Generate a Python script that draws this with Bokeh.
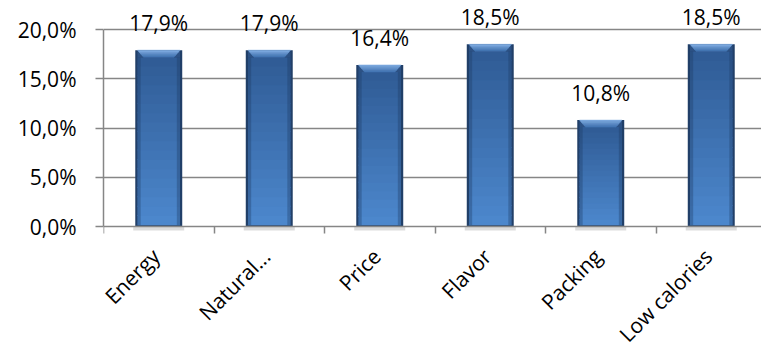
import numpy as np
from bokeh.plotting import figure
from bokeh.core.properties import value
from bokeh.models import (Range1d, FixedTicker, LinearAxis, ColumnDataSource,
                          LabelSet, Grid)
from bokeh.embed import file_html
from bokeh.resources import INLINE

categories = ["Energy", "Natural...", "Price", "Flavor", "Packing", "Low calories"]
values = [17.9, 17.9, 16.4, 18.5, 10.8, 18.5]
value_labels = ["17,9%", "17,9%", "16,4%", "18,5%", "10,8%", "18,5%"]
y_ticks = [0, 5, 10, 15, 20]
y_tick_labels = ["0,0%", "5,0%", "10,0%", "15,0%", "20,0%"]

FONT = "Open Sans"
GRID = "#868686"
x_pos = [i + 0.5 for i in range(len(categories))]
boundaries = list(range(len(categories) + 1))

W, H = 761, 356
LEFT = 103
ZERO_Y = 226     # pixel row of the 0 line
PX = 9.85        # pixels per percent unit
CAT = 110.5      # pixels per category

p = figure(width=W, height=H, output_backend="svg", toolbar_location=None,
           x_range=Range1d(0, (W - LEFT) / CAT),
           y_range=Range1d(-(H - ZERO_Y) / PX, ZERO_Y / PX),
           x_axis_type=None, y_axis_type=None,
           min_border_left=LEFT, min_border_right=0, min_border_top=0,
           min_border_bottom=0)
p.outline_line_color = None
p.background_fill_color = "white"
p.border_fill_color = "white"

p.add_layout(Grid(dimension=1, ticker=FixedTicker(ticks=y_ticks[1:]),
                  grid_line_color=GRID, grid_line_width=1.5))

yaxis = LinearAxis(ticker=FixedTicker(ticks=y_ticks),
                   major_label_overrides=dict(zip(y_ticks, y_tick_labels)),
                   bounds=(0, 20),
                   axis_line_color=GRID, axis_line_width=1.5,
                   major_tick_line_color=GRID, major_tick_line_width=1.5,
                   major_tick_out=8, major_tick_in=0,
                   minor_tick_line_color=None,
                   major_label_standoff=19,
                   major_label_text_font=FONT, major_label_text_font_size="21px",
                   major_label_text_color="black")
p.add_layout(yaxis, "left")

# --- bars with a simulated bevel / gradient ---
bar_w = 0.425
edge = 2.2 / CAT
inner_w = bar_w - 2 * edge
bevel_h = 7.0 / PX
bevel_dx = 6.0 / CAT
base_h = 0.12


def mix(c1, c2, t):
    a = [int(c1[i:i + 2], 16) for i in (1, 3, 5)]
    b = [int(c2[i:i + 2], 16) for i in (1, 3, 5)]
    return "#%02x%02x%02x" % tuple(round(a[j] + (b[j] - a[j]) * t) for j in range(3))


# soft shadow under each bar
p.vbar(x=x_pos, top=[0] * len(values), bottom=[-4 / PX] * len(values),
       width=bar_w + 4 / CAT, fill_color="#9a9a9a", fill_alpha=0.35, line_color=None)

# dark outer body
p.vbar(x=x_pos, top=values, width=bar_w, fill_color="#213f68", line_color=None)

N = 18
sx, sb, st, sc = [], [], [], []
for x, v in zip(x_pos, values):
    lo, hi = base_h, v - bevel_h
    for k in range(N):
        b = lo + (hi - lo) * k / N
        t = lo + (hi - lo) * (k + 1) / N + 0.1
        sx.append(x)
        sb.append(b)
        st.append(min(t, hi))
        sc.append(mix("#4c87cc", "#305c96", k / (N - 1)))
seg = ColumnDataSource(dict(x=sx, b=sb, t=st, c=sc))
p.vbar(x="x", bottom="b", top="t", width=inner_w, fill_color="c", line_color=None, source=seg)

# side shading
for off in (-1, 1):
    p.vbar(x=[x + off * (inner_w / 2 - 1.6 / CAT) for x in x_pos],
           bottom=[base_h] * len(values), top=[v - bevel_h for v in values],
           width=3.2 / CAT, fill_color="#1d3a60", fill_alpha=0.35, line_color=None)

# top bevel: darker frame + lighter trapezoid
p.vbar(x=x_pos, bottom=[v - bevel_h for v in values], top=[v - 0.1 for v in values],
       width=inner_w, fill_color="#2c5184", line_color=None)
px_list, py_list, pc_list = [], [], []
M = 4
for x, v in zip(x_pos, values):
    half = inner_w / 2
    for k in range(M):
        f0, f1 = k / M, (k + 1) / M
        y0 = v - bevel_h + bevel_h * f0
        y1 = v - bevel_h + bevel_h * f1
        d0 = bevel_dx * (1 - f0)
        d1 = bevel_dx * (1 - f1)
        px_list.append([x - half + d0, x + half - d0, x + half - d1, x - half + d1])
        py_list.append([y0, y0, y1, y1])
        pc_list.append(mix("#4576b4", "#79a6dc", k / (M - 1)))
p.patches(xs=px_list, ys=py_list, fill_color=pc_list, line_color=pc_list, line_width=0.5)

# x axis line at zero with boundary ticks
xaxis = LinearAxis(ticker=FixedTicker(ticks=[], minor_ticks=boundaries),
                   fixed_location=0,
                   axis_line_color=GRID, axis_line_width=1.5,
                   major_tick_line_color=None, major_tick_out=0, major_tick_in=0,
                   minor_tick_line_color=GRID, minor_tick_line_width=1.5,
                   minor_tick_out=7, minor_tick_in=0,
                   major_label_standoff=0)
p.add_layout(xaxis, "below")

src = ColumnDataSource(dict(x=x_pos, v=values, lbl=value_labels))
p.add_layout(LabelSet(x="x", y="v", text="lbl", source=src, text_align="center",
                      text_baseline="alphabetic", y_offset=19,
                      text_font=value(FONT), text_font_size="21px",
                      text_color="black"))

cat_src = ColumnDataSource(dict(x=x_pos, y=[0] * len(categories), lbl=categories))
p.add_layout(LabelSet(x="x", y="y", text="lbl", source=cat_src, angle=np.pi / 4,
                      text_align="right", text_baseline="middle",
                      x_offset=-3, y_offset=-26,
                      text_font=value(FONT), text_font_size="21px",
                      text_color="black"))

open("out.html", "w").write(file_html(p, INLINE))
